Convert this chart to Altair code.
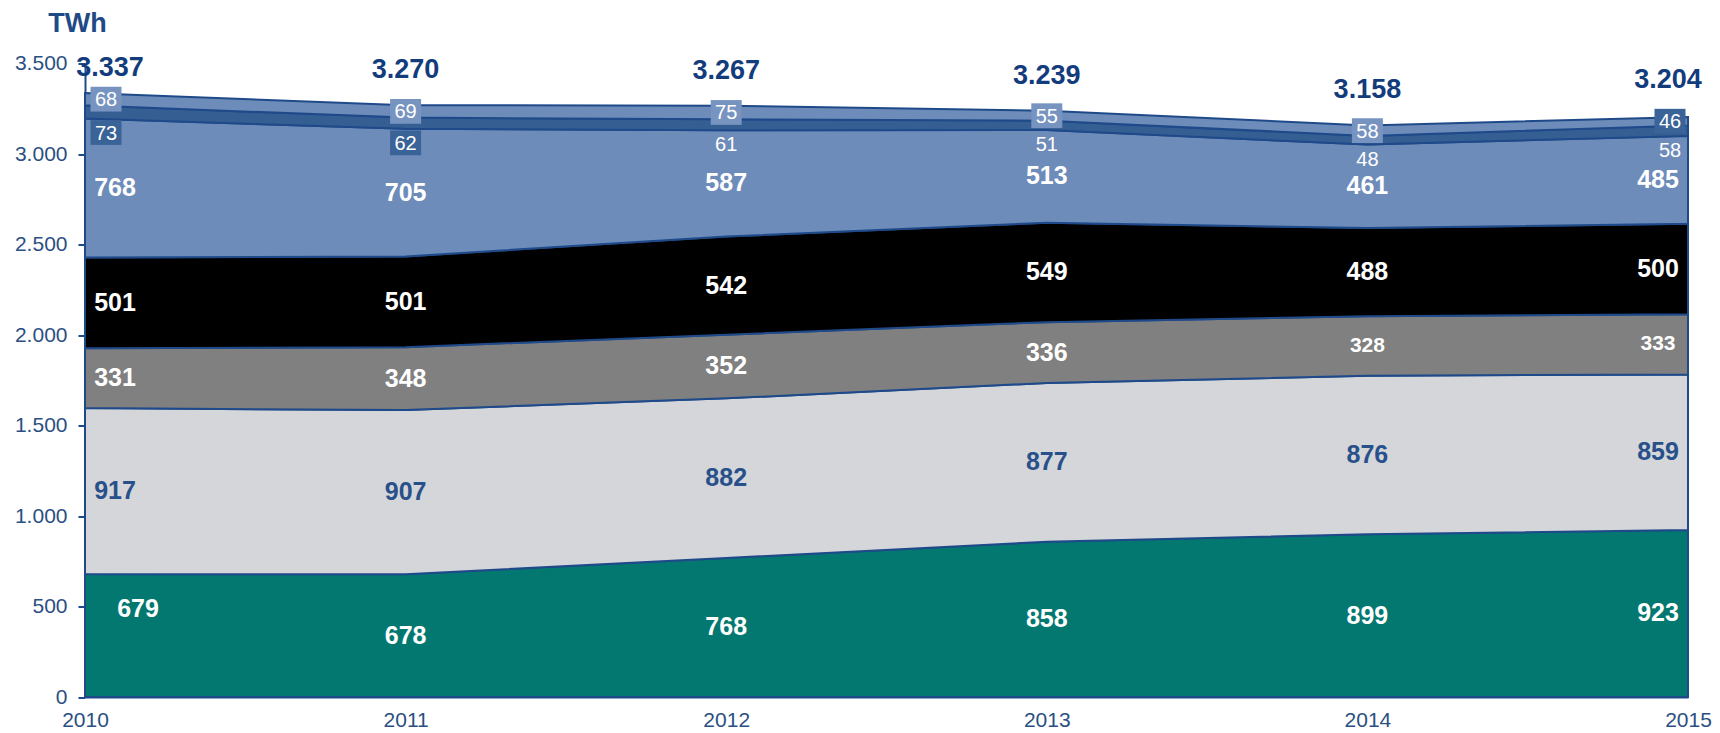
import altair as alt
import pandas as pd

# ---------------- data ----------------
years = [2010, 2011, 2012, 2013, 2014, 2015]
series = ["S1", "S2", "S3", "S4", "S5", "S6", "S7"]  # bottom -> top
s1 = [679, 678, 768, 858, 899, 923]
s2 = [917, 907, 882, 877, 876, 859]
s3 = [331, 348, 352, 336, 328, 333]
s4 = [501, 501, 542, 549, 488, 500]
s5 = [768, 705, 587, 513, 461, 485]
s6 = [73, 62, 61, 51, 48, 58]
s7 = [68, 69, 75, 55, 58, 46]
totals = [3337, 3270, 3267, 3239, 3158, 3204]
y_ticks = [0, 500, 1000, 1500, 2000, 2500, 3000, 3500]

colors = ["#037870", "#d5d6d9", "#808080", "#000000", "#6e8cb9", "#355f93", "#6e8cb9"]

values = [s1, s2, s3, s4, s5, s6, s7]
rows = []
for k, (name, vals) in enumerate(zip(series, values)):
    for yr, v in zip(years, vals):
        rows.append({"year": yr, "series": name, "ord": k, "value": v})
df = pd.DataFrame(rows)
df_tot = pd.DataFrame({"year": years, "total": totals})

# ---------------- styling ----------------
FONT = "Liberation Sans, Arial, sans-serif"
NAVY = "#1f4a8a"
AXIS_TXT = "#2b4f82"
TOT_TXT = "#133c7c"
W, H = 1603, 633.5
first, last = years[0], years[-1]

xscale = alt.Scale(domain=[first, last], nice=False, zero=False)
yscale = alt.Scale(domain=[0, 3500], nice=False)

xaxis = alt.Axis(
    values=years, format="d", ticks=False, grid=False, title=None,
    domainColor=NAVY, domainWidth=2, labelFont=FONT, labelFontSize=21,
    labelColor=AXIS_TXT, labelPadding=12, labelFlush=False)
yaxis = alt.Axis(
    values=y_ticks, labelExpr="replace(format(datum.value, ','), ',', '.')",
    tickSize=7, tickWidth=2, tickColor=NAVY, domainColor=NAVY, domainWidth=2,
    grid=False, labelFont=FONT, labelFontSize=21, labelColor=AXIS_TXT, labelPadding=11,
    title="TWh", titleAngle=0, titleX=-8, titleY=-40, titleAlign="center",
    titleBaseline="middle", titleFont=FONT,
    titleFontSize=27, titleFontWeight="bold", titleColor="#1f4a86")


def X():
    return alt.X("year:Q", scale=xscale, axis=xaxis)


def Y(field):
    return alt.Y(f"{field}:Q", scale=yscale, axis=yaxis)


base = alt.Chart(df).transform_stack(
    stack="value", groupby=["year"], as_=["y0", "y1"],
    sort=[alt.SortField("ord", order="ascending")]
).transform_calculate(mid="(datum.y0 + datum.y1) / 2")

areas = base.mark_area(stroke=NAVY, strokeWidth=2, interpolate="linear", opacity=1).encode(
    x=X(), y=Y("y1"), y2="y0:Q",
    color=alt.Color("series:N", scale=alt.Scale(domain=series, range=colors), legend=None),
)


def year_groups():
    return [
        (f"datum.year == {first}", "first"),
        (f"datum.year > {first} && datum.year < {last}", "mid"),
        (f"datum.year == {last}", "last"),
    ]


layers = [areas]

# big bold labels (series 1-5)
big_dx = {"first": 30, "mid": 0, "last": -30}
big_color = alt.condition("datum.series == 'S2'", alt.value("#28508a"), alt.value("white"))
big_size = alt.condition(f"datum.series == 'S3' && datum.year >= {years[4]}", alt.value(21), alt.value(25))
for cond, g in year_groups():
    c = cond
    if g == "first":
        c = cond + " && datum.series != 'S1'"
    layers.append(
        base.transform_filter("indexof(['S1','S2','S3','S4','S5'], datum.series) >= 0")
        .transform_filter(c)
        .mark_text(font=FONT, fontWeight="bold", baseline="middle", dx=big_dx[g])
        .encode(x=X(), y=Y("mid"), text=alt.Text("value:Q"), color=big_color, size=big_size)
    )
# first-year bottom label sits higher and further right in the reference
layers.append(
    base.transform_filter(f"datum.series == 'S1' && datum.year == {first}")
    .mark_text(font=FONT, fontSize=25, fontWeight="bold", baseline="middle", dx=53, dy=-27,
               color="white")
    .encode(x=X(), y=Y("mid"), text=alt.Text("value:Q"))
)

BOX = "M-1,-0.8H1V0.8H-1Z"
small_dx = {"first": 21, "mid": 0, "last": -18}

# top layer (S7) boxes + labels
for cond, g in year_groups():
    boxcol = "#3a6398" if g == "last" else "#7794c1"
    layers.append(
        base.transform_filter("datum.series == 'S7'").transform_filter(cond)
        .mark_point(shape=BOX, size=961, filled=True, opacity=1, color=boxcol, xOffset=small_dx[g])
        .encode(x=X(), y=Y("mid"))
    )
    layers.append(
        base.transform_filter("datum.series == 'S7'").transform_filter(cond)
        .mark_text(font=FONT, fontSize=20, color="white", baseline="middle", dx=small_dx[g], dy=1)
        .encode(x=X(), y=Y("mid"), text="value:Q")
    )

# dark layer (S6) labels below band; boxed in first two years
for cond, g in year_groups():
    if g != "last":
        bcond = cond if g == "first" else f"datum.year == {years[1]}"
        layers.append(
            base.transform_filter("datum.series == 'S6'").transform_filter(bcond)
            .mark_point(shape=BOX, size=961, filled=True, opacity=1, color="#3a6398",
                        xOffset=small_dx[g], yOffset=14)
            .encode(x=X(), y=Y("y0"))
        )
    layers.append(
        base.transform_filter("datum.series == 'S6'").transform_filter(cond)
        .mark_text(font=FONT, fontSize=20, color="white", baseline="middle", dx=small_dx[g], dy=15)
        .encode(x=X(), y=Y("y0"), text="value:Q")
    )

# totals
tot_base = alt.Chart(df_tot).transform_calculate(
    lbl="replace(format(datum.total, ','), ',', '.')")
tot_dx = {"first": 25, "mid": 0, "last": -20}
tot_dy = {"first": -25, "mid": -35, "last": -37}
for cond, g in year_groups():
    layers.append(
        tot_base.transform_filter(cond)
        .mark_text(font=FONT, fontSize=27, fontWeight="bold", color=TOT_TXT, baseline="middle",
                   dx=tot_dx[g], dy=tot_dy[g])
        .encode(x=X(), y=Y("total"), text="lbl:N")
    )

chart = alt.layer(*layers).properties(
    width=W, height=H, autosize="none",
    padding={"left": 77, "top": 55.5, "right": 24, "bottom": 36},
).configure_view(stroke=None)

chart.save("out.html", embed_options={"renderer": "svg", "actions": False})
